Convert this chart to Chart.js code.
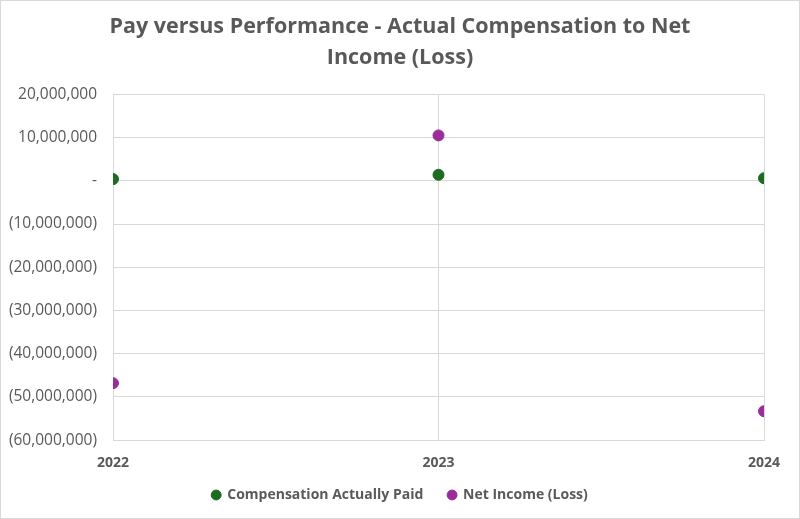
<!DOCTYPE html>
<html>
<head>
<meta charset="utf-8">
<script src="https://cdn.jsdelivr.net/npm/chart.js@4"></script>
<style>
  html, body { margin: 0; padding: 0; background: #fff; }
  #wrap { width: 798px; height: 517px; border: 1px solid #d9d9d9; }
</style>
</head>
<body>
<div id="wrap"><canvas id="myChart" width="798" height="517"></canvas></div>
<script>
const years = [2022, 2023, 2024];
const compActuallyPaid = [400000, 1400000, 600000];
const netIncome = [-46800000, 10500000, -53300000];
const seriesNames = ["Compensation Actually Paid", "Net Income (Loss)"];
const seriesColors = ["#1e6b24", "#9b2d9b"];
const yMin = -60000000, yMax = 20000000, yStep = 10000000;

const textColor = "#595959";
const gridColor = "#d9d9d9";
const fontFamily = "'Open Sans', 'Liberation Sans', sans-serif";

function toPoints(values) {
  return years.map((y, i) => ({ x: y, y: values[i] }));
}

function fmtMoney(v) {
  if (v === 0) return "-";
  const s = Math.abs(v).toLocaleString("en-US");
  return v < 0 ? "(" + s + ")" : s;
}

var myChart = new Chart("myChart", {
  type: "scatter",
  data: {
    datasets: [
      {
        label: seriesNames[0],
        data: toPoints(compActuallyPaid),
        backgroundColor: seriesColors[0],
        borderColor: seriesColors[0],
        pointRadius: 5.5,
        pointHoverRadius: 5.5,
      },
      {
        label: seriesNames[1],
        data: toPoints(netIncome),
        backgroundColor: seriesColors[1],
        borderColor: seriesColors[1],
        pointRadius: 5.5,
        pointHoverRadius: 5.5,
      },
    ],
  },
  options: {
    responsive: false,
    animation: false,
    layout: { padding: { left: 0, right: 0, top: 0, bottom: 6 } },
    plugins: {
      tooltip: { enabled: false },
      title: {
        display: true,
        text: ["Pay versus Performance - Actual Compensation to Net", "Income (Loss)"],
        color: textColor,
        font: { family: fontFamily, size: 21.5, weight: "bold", lineHeight: 1.45 },
        padding: { top: 10, bottom: 21 },
      },
      legend: {
        position: "bottom",
        labels: {
          usePointStyle: true,
          pointStyle: "circle",
          boxWidth: 8,
          boxHeight: 7,
          padding: 3,
          color: textColor,
          font: { family: fontFamily, size: 14, weight: "bold" },
          // extra room between the two legend entries
          generateLabels: (chart) => {
            const items = Chart.defaults.plugins.legend.labels.generateLabels(chart);
            items.forEach((it, i) => { if (i < items.length - 1) it.text += "      "; });
            return items;
          },
        },
      },
    },
    scales: {
      x: {
        type: "linear",
        min: years[0],
        max: years[years.length - 1],
        ticks: {
          stepSize: 1,
          color: textColor,
          padding: 14,
          font: { family: fontFamily, size: 14, weight: "bold" },
          callback: (v) => String(v),
        },
        grid: { color: gridColor, drawTicks: false },
        border: { color: gridColor },
        afterFit: (scale) => { scale.paddingRight = 35; },
      },
      y: {
        min: yMin,
        max: yMax,
        ticks: {
          stepSize: yStep,
          color: textColor,
          padding: 16,
          font: { family: fontFamily, size: 15.5 },
          callback: (v) => fmtMoney(v),
        },
        grid: { color: gridColor, drawTicks: false },
        border: { color: gridColor },
        afterFit: (scale) => { scale.width = 112; },
      },
    },
  },
});
</script>
</body>
</html>
